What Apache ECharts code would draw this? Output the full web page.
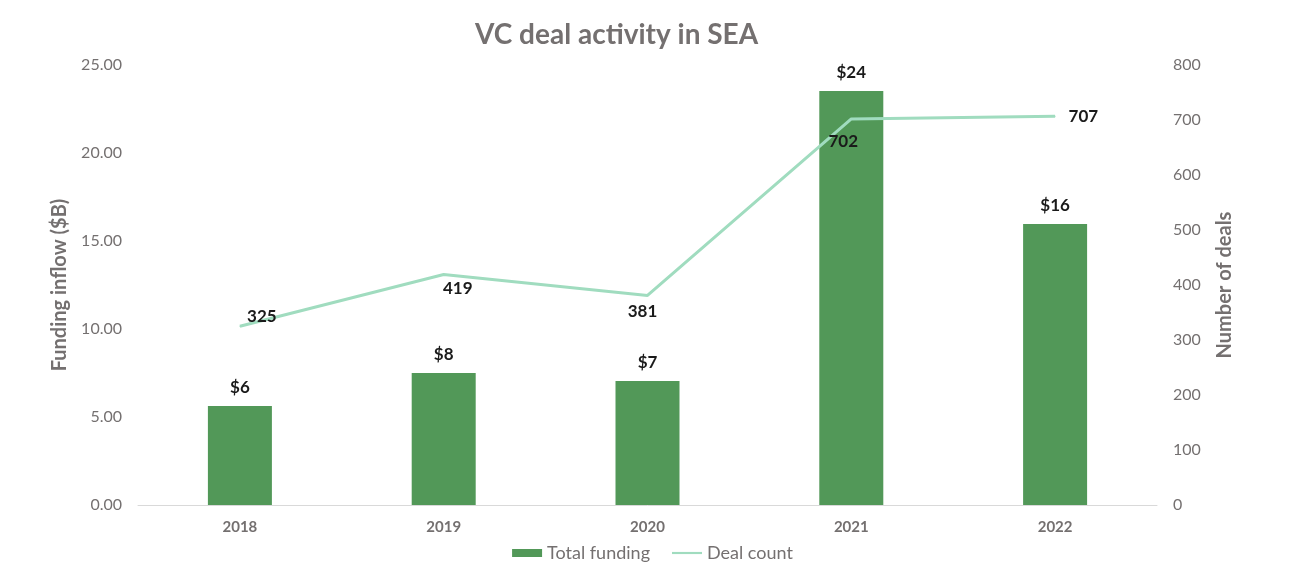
<!DOCTYPE html>
<html><head><meta charset="utf-8">
<script src="https://cdn.jsdelivr.net/npm/echarts@6/dist/echarts.min.js"></script>
<style>html,body{margin:0;padding:0;background:#fff}#c{width:1305px;height:576px}</style>
</head><body><div id="c"></div>
<script>
const years = ['2018','2019','2020','2021','2022'];
const totalFunding = [5.63, 7.5, 7.05, 23.52, 15.97];
const fundingLabels = ['$6','$8','$7','$24','$16'];
const dealCount = [325, 419, 381, 702, 707];

const FONT = 'Lato, "Open Sans", sans-serif';
const GRAY = '#747070';
const lineLabelStyle = [
  {position:'top', offset:[22,4]},
  {position:'bottom', offset:[14,0]},
  {position:'bottom', offset:[-5,2]},
  {position:'bottom', offset:[-8,9]},
  {position:'right', offset:[8,0]}
];

const chart = echarts.init(document.getElementById('c'));
chart.setOption({
  animation:false,
  textStyle:{fontFamily:FONT},
  title:{text:'VC deal activity in SEA', left:470, top:16,
    textStyle:{fontFamily:FONT, fontSize:28, fontWeight:'bold', color:GRAY}},
  grid:{left:138, right:148, top:65, bottom:71},
  legend:{bottom:9, left:'center', itemGap:22, itemWidth:30, itemHeight:8,
    textStyle:{fontFamily:FONT, fontSize:18, color:GRAY},
    data:[{name:'Total funding', icon:'rect'},
          {name:'Deal count', icon:'path://M0,3 L28,3 L28,5 L0,5 Z'}]},
  xAxis:{type:'category', data:years,
    axisLine:{lineStyle:{color:'#d9d9d9'}}, axisTick:{show:false},
    axisLabel:{fontFamily:FONT, fontSize:15, fontWeight:'bold', color:GRAY, margin:15}},
  yAxis:[
    {type:'value', min:0, max:25, interval:5, splitLine:{show:false},
     axisLabel:{formatter:v=>v.toFixed(2), fontFamily:FONT, fontSize:16, color:GRAY, margin:16},
     name:'Funding inflow ($B)', nameLocation:'middle', nameGap:68,
     nameTextStyle:{fontFamily:FONT, fontSize:20, fontWeight:'bold', color:GRAY}},
    {type:'value', min:0, max:800, interval:100, splitLine:{show:false},
     axisLabel:{fontFamily:FONT, fontSize:16, color:GRAY, margin:16},
     name:'Number of deals', nameLocation:'middle', nameGap:58,
     nameTextStyle:{fontFamily:FONT, fontSize:20, fontWeight:'bold', color:GRAY}}
  ],
  series:[
    {name:'Total funding', type:'bar', data:totalFunding, barWidth:64,
     itemStyle:{color:'#529858'},
     label:{show:true, position:'top', distance:10, formatter:p=>fundingLabels[p.dataIndex],
       fontFamily:FONT, fontSize:17, fontWeight:'bold', color:'#1a1a1a'}},
    {name:'Deal count', type:'line', yAxisIndex:1, showSymbol:true, symbol:'circle', symbolSize:1,
     lineStyle:{color:'#a0dcbf', width:3}, itemStyle:{color:'#a0dcbf'},
     data:dealCount.map((v,i)=>({value:v, label:Object.assign({show:true}, lineLabelStyle[i])})),
     label:{show:true, fontFamily:FONT, fontSize:17, fontWeight:'bold', color:'#1a1a1a'}}
  ]
});
</script></body></html>
